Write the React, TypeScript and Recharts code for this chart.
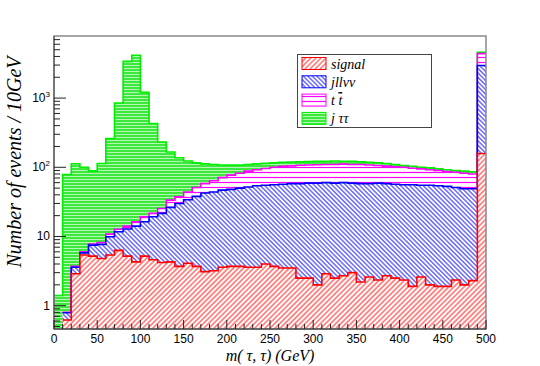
import { Area, ComposedChart, Legend, ReferenceArea, XAxis, YAxis } from 'recharts'

// lower edge of each 10 GeV bin
const BIN_LOW = [
  0, 10, 20, 30, 40, 50, 60, 70, 80, 90, 100, 110, 120, 130, 140, 150, 160, 170, 180, 190, 200, 210, 220, 230, 240,
  250, 260, 270, 280, 290, 300, 310, 320, 330, 340, 350, 360, 370, 380, 390, 400, 410, 420, 430, 440, 450, 460, 470,
  480, 490,
]

const SIGNAL = [
  0, 0.62, 2.9, 5.4, 5.2, 4.8, 5.4, 6.3, 5.2, 4.3, 5.2, 4.6, 4.2, 4.3, 3.7, 4.1, 3.7, 3.1, 3.2, 3.6, 3.7, 3.7, 3.6, 3.6,
  4.0, 3.7, 3.5, 3.5, 2.5, 2.5, 2.0, 2.9, 2.5, 2.7, 3.0, 2.2, 2.6, 2.35, 2.7, 2.5, 2.35, 1.9, 2.6, 2.0, 1.9, 1.9, 2.35,
  2.0, 2.3, 158,
]
const JLLVV = [
  0, 0.17, 0.7, 0.4, 2.3, 2.9, 4.5, 5.4, 7.6, 9.8, 11.1, 14.7, 17.4, 22, 26.3, 29.9, 34.3, 39.5, 40.8, 43.1, 44.3, 46.3,
  48.4, 50.4, 51, 52.3, 53.5, 54.5, 55.5, 56.5, 57, 57.1, 56.5, 57.3, 56, 55.8, 55.4, 56.6, 55.3, 54.5, 53.6, 54.1,
  52.4, 53, 52.1, 51.1, 48.6, 47, 46.7, 2800,
]
const TTBAR = [
  0, 0.01, 0.1, 0.2, 0.3, 0.5, 0.9, 1.0, 1.3, 2.2, 3.0, 2.3, 3.8, 7.2, 7.5, 10, 13, 15.4, 20, 24.3, 29, 32, 36, 38, 41,
  44, 46, 47, 49, 49, 50, 50, 51, 51, 51, 52, 50, 47, 46, 45, 44, 41, 40, 37, 36, 34, 34, 33, 31, 1440,
]
const JTAUTAU = [
  1.4, 78, 109, 94, 81, 105, 249, 837, 3386, 4154, 1191, 408, 207, 133, 100, 79, 65, 54, 46, 37, 31, 26, 22, 20, 18, 16,
  15, 14, 13, 13, 13, 12, 13, 11, 12, 10, 10, 10, 9, 8, 6, 6, 5, 6, 5, 5, 5, 6, 6, 200,
]

const X_TICKS = [
  0, 10, 20, 30, 40, 50, 60, 70, 80, 90, 100, 110, 120, 130, 140, 150, 160, 170, 180, 190, 200, 210, 220, 230, 240, 250,
  260, 270, 280, 290, 300, 310, 320, 330, 340, 350, 360, 370, 380, 390, 400, 410, 420, 430, 440, 450, 460, 470, 480,
  490, 500,
]
const X_LABELS = [0, 50, 100, 150, 200, 250, 300, 350, 400, 450, 500]

const Y_TICKS = [
  0.5, 0.6, 0.7, 0.8, 0.9, 1, 2, 3, 4, 5, 6, 7, 8, 9, 10, 20, 30, 40, 50, 60, 70, 80, 90, 100, 200, 300, 400, 500, 600,
  700, 800, 900, 1000, 2000, 3000, 4000, 5000, 6000, 7000,
]
const Y_LABELS: Record<number, [string, string]> = { 1: ['1', ''], 10: ['10', ''], 100: ['10', '2'], 1000: ['10', '3'] }

const Y_MIN = 0.46
const Y_MAX = 7900

const SERIF = "'Liberation Serif', 'DejaVu Serif', serif"
const SANS = "'Liberation Sans', Arial, sans-serif"

const LEGEND = [
  { key: 'signal', fill: 'url(#hatchSignal)', color: '#ff0000' },
  { key: 'jllvv', fill: 'url(#hatchJllvv)', color: '#0000ff' },
  { key: 'ttbar', fill: 'url(#hatchTtbar)', color: '#ff00ff' },
  { key: 'jtautau', fill: 'url(#hatchJtt)', color: '#00ee00' },
]

// stacked levels (log axis can't take 0, so empty bins become null)
const pos = (v: number) => (v > 0 ? v : null)
const rows = BIN_LOW.map((x, i) => {
  const s = SIGNAL[i]
  const j = s + JLLVV[i]
  const t = j + TTBAR[i]
  const all = t + JTAUTAU[i]
  return { x, sig: pos(s), jll: pos(j), tt: pos(t), all: pos(all) }
})
const data = [...rows, { ...rows[rows.length - 1], x: 500 }]

const XTick = ({ x, y, payload }: any) => {
  const major = X_LABELS.includes(payload.value)
  return (
    <g>
      <line x1={x} x2={x} y1={y} y2={y - (major ? 9 : 5)} stroke="#222" />
      {major && (
        <text x={x} y={y + 14} textAnchor="middle" fontSize={12} fontFamily={SANS} fill="#000">
          {payload.value}
        </text>
      )}
    </g>
  )
}

const YTick = ({ x, y, payload }: any) => {
  const lbl = Y_LABELS[payload.value]
  return (
    <g>
      <line x1={x} x2={x + (lbl ? 12 : 6)} y1={y} y2={y} stroke="#222" />
      {lbl && (
        <text x={50} y={y + 4} textAnchor="end" fontSize={12} fontFamily={SANS} fill="#000">
          {lbl[0]}
          {lbl[1] && (
            <tspan fontSize={8} dy={-5}>
              {lbl[1]}
            </tspan>
          )}
        </text>
      )}
    </g>
  )
}

const LegendBox = () => (
  <svg width={135} height={74} style={{ display: 'block' }}>
    <rect x={0.5} y={0.5} width={134} height={73} fill="#fff" stroke="#444" />
    {LEGEND.map((e, i) => {
      const cy = 9.5 + i * 18.3
      return (
        <g key={e.key}>
          <rect x={5} y={cy - 6} width={24} height={12} fill={e.fill} stroke={e.color} />
          <text x={34} y={cy + 5} fontSize={14} fontStyle="italic" fontFamily={SERIF} fill="#000">
            {e.key === 'signal' && 'signal'}
            {e.key === 'jllvv' && 'jllvv'}
            {e.key === 'ttbar' && (
              <>
                {'t '}
                <tspan textDecoration="overline">t</tspan>
              </>
            )}
            {e.key === 'jtautau' && 'j ττ'}
          </text>
        </g>
      )
    })}
  </svg>
)

export default function App() {
  return (
    <div style={{ position: 'absolute', left: 0, top: 0 }}>
      <ComposedChart width={540} height={366} data={data} margin={{ top: 36, right: 54, bottom: 0, left: 0 }}>
        <defs>
          <pattern id="hatchSignal" patternUnits="userSpaceOnUse" width={3.6} height={3.6} patternTransform="rotate(45)">
            <rect width={3.6} height={3.6} fill="#fff" />
            <line x1={1.8} y1={0} x2={1.8} y2={3.6} stroke="#ff2020" strokeWidth={1} />
          </pattern>
          <pattern id="hatchJllvv" patternUnits="userSpaceOnUse" width={3.2} height={3.2} patternTransform="rotate(-45)">
            <rect width={3.2} height={3.2} fill="#fff" />
            <line x1={1.6} y1={0} x2={1.6} y2={3.2} stroke="#2020ff" strokeWidth={1} />
          </pattern>
          <pattern id="hatchTtbar" patternUnits="userSpaceOnUse" width={8} height={5}>
            <rect width={8} height={5} fill="#fff" />
            <line x1={0} y1={2.5} x2={8} y2={2.5} stroke="#ff00ff" strokeWidth={1.2} />
          </pattern>
          <pattern id="hatchJtt" patternUnits="userSpaceOnUse" width={8} height={3}>
            <rect width={8} height={3} fill="#3de83d" />
            <line x1={0} y1={2.5} x2={8} y2={2.5} stroke="#b4f7b4" strokeWidth={1} />
          </pattern>
        </defs>
        <Area
          type="stepAfter"
          dataKey="all"
          stroke="#00ee00"
          strokeWidth={1.6}
          fill="url(#hatchJtt)"
          fillOpacity={1}
          baseValue={Y_MIN}
          dot={false}
          activeDot={false}
          isAnimationActive={false}
        />
        <Area
          type="stepAfter"
          dataKey="tt"
          stroke="#ff00ff"
          strokeWidth={1.6}
          fill="url(#hatchTtbar)"
          fillOpacity={1}
          baseValue={Y_MIN}
          dot={false}
          activeDot={false}
          isAnimationActive={false}
        />
        <Area
          type="stepAfter"
          dataKey="jll"
          stroke="#0000ff"
          strokeWidth={1.6}
          fill="url(#hatchJllvv)"
          fillOpacity={1}
          baseValue={Y_MIN}
          dot={false}
          activeDot={false}
          isAnimationActive={false}
        />
        <Area
          type="stepAfter"
          dataKey="sig"
          stroke="#ff0000"
          strokeWidth={1.6}
          fill="url(#hatchSignal)"
          fillOpacity={1}
          baseValue={Y_MIN}
          dot={false}
          activeDot={false}
          isAnimationActive={false}
        />
        <ReferenceArea x1={0} x2={500} y1={Y_MIN} y2={Y_MAX} fill="none" stroke="#888" strokeWidth={1.5} />
        <XAxis
          dataKey="x"
          type="number"
          domain={[0, 500]}
          allowDataOverflow
          ticks={X_TICKS}
          interval={0}
          tick={XTick}
          tickSize={0}
          tickMargin={0}
          tickLine={false}
          axisLine={{ stroke: '#555', strokeWidth: 1.5 }}
          height={37}
          label={{
            content: () => (
              <text x={270} y={361} textAnchor="middle" fontSize={16} fontStyle="italic" fontFamily={SERIF}>
                m( τ, τ) (GeV)
              </text>
            ),
          }}
        />
        <YAxis
          scale="log"
          domain={[Y_MIN, Y_MAX]}
          allowDataOverflow
          ticks={Y_TICKS}
          interval={0}
          tick={YTick}
          tickSize={0}
          tickMargin={0}
          tickLine={false}
          axisLine={{ stroke: '#777', strokeWidth: 2 }}
          width={54}
          label={{
            content: () => (
              <text
                x={21}
                y={162}
                transform="rotate(-90 21 162)"
                textAnchor="middle"
                fontSize={20}
                fontStyle="italic"
                fontFamily={SERIF}
              >
                Number of events / 10GeV
              </text>
            ),
          }}
        />
        <Legend
          layout="vertical"
          align="center"
          verticalAlign="middle"
          wrapperStyle={{ position: 'absolute', left: 297, top: 54, width: 135, height: 74 }}
          content={() => <LegendBox />}
        />
      </ComposedChart>
    </div>
  )
}
